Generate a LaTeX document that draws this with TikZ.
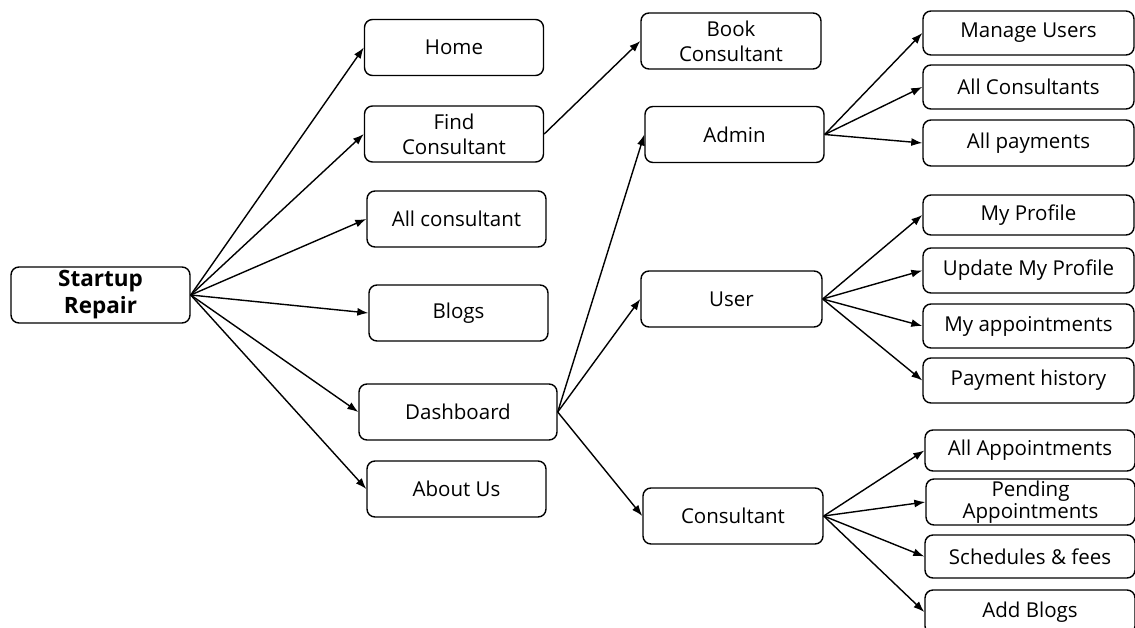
\documentclass[tikz,border=0pt]{standalone}
\usepackage{fontspec}
\setmainfont{Open Sans}
\usetikzlibrary{arrows.meta}

\tikzset{
  box/.style={draw, rounded corners=8pt, line width=1.4pt, align=center, inner sep=0pt,
    minimum width=179pt, minimum height=56pt, font=\fontsize{20.5}{25}\selectfont},
  leaf/.style={box, minimum width=211pt, minimum height=44pt, font=\fontsize{20.5}{22}\selectfont},
  link/.style={line width=1.4pt, -{Latex[length=11pt,width=8pt]}}
}

\begin{document}
\begin{tikzpicture}[x=1pt,y=-1pt]
\useasboundingbox (0,0) rectangle (1135,627);
% root
\node[box, font=\bfseries\fontsize{22.5}{27}\selectfont] (start) at (100.5,295) {Startup\\Repair};
% first level
\node[box] (home) at (454,47.5) {Home};
\node[box] (find) at (454,134) {Find\\Consultant};
\node[box] (allcons) at (456.5,219) {All consultant};
\node[box] (blogs) at (458.5,313) {Blogs};
\node[box, minimum width=198pt] (dash) at (458,412) {Dashboard};
\node[box] (about) at (456.5,489) {About Us};
% second level
\node[box, minimum width=180pt] (book) at (731,41) {Book\\Consultant};
\node[box, minimum width=179pt] (admin) at (734.5,134.5) {Admin};
\node[box, minimum width=181pt] (user) at (731.5,299) {User};
\node[box, minimum width=180pt] (cons) at (733,516) {Consultant};
% admin pages
\node[leaf] (manage) at (1028.5,33) {Manage Users};
\node[leaf] (allconsultants) at (1028.5,87) {All Consultants};
\node[leaf, minimum height=46pt] (allpay) at (1028.5,143) {All payments};
% user pages
\node[leaf, minimum height=40pt] (profile) at (1028.5,215) {My Profile};
\node[leaf, minimum height=45pt] (update) at (1028.5,270.5) {Update My Profile};
\node[leaf] (myapp) at (1028.5,326) {My appointments};
\node[leaf, minimum height=45pt] (payhist) at (1028.5,380.5) {Payment history};
% consultant pages
\node[leaf, minimum width=210pt, minimum height=41pt] (allapp) at (1030,450.5) {All Appointments};
\node[leaf, minimum width=209pt, minimum height=46pt] (pending) at (1030.5,502) {Pending\\Appointments};
\node[leaf, minimum width=210pt, minimum height=43pt] (sched) at (1030,556.5) {Schedules \& fees};
\node[leaf, minimum width=210pt] (addblogs) at (1030,612) {Add Blogs};

% links
\draw[link] (start.east) -- (home.west);
\draw[link] (start.east) -- (find.west);
\draw[link] (start.east) -- (allcons.west);
\draw[link] (start.east) -- (blogs.west);
\draw[link] (start.east) -- (dash.west);
\draw[link] (start.east) -- (about.west);
\draw[link] (find.east) -- (book.west);
\draw[link] (dash.east) -- (admin.west);
\draw[link] (dash.east) -- (user.west);
\draw[link] (dash.east) -- (cons.west);
\draw[link] (admin.east) -- (manage.west);
\draw[link] (admin.east) -- (allconsultants.west);
\draw[link] (admin.east) -- (allpay.west);
\draw[link] (user.east) -- (profile.west);
\draw[link] (user.east) -- (update.west);
\draw[link] (user.east) -- (myapp.west);
\draw[link] (user.east) -- (payhist.west);
\draw[link] (cons.east) -- (allapp.west);
\draw[link] (cons.east) -- (pending.west);
\draw[link] (cons.east) -- (sched.west);
\draw[link] (cons.east) -- (addblogs.west);
\end{tikzpicture}
\end{document}
